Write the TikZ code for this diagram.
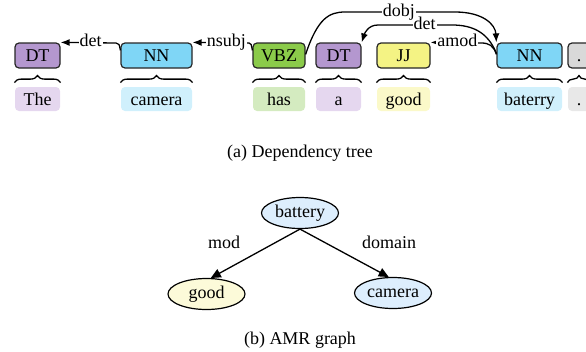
\documentclass[tikz,border=0pt]{standalone}
\usepackage{fontspec}
\setmainfont{Liberation Serif}
\usetikzlibrary{arrows.meta,decorations.pathreplacing,shapes.geometric}

% tag and token colours
\definecolor{dtTag}{HTML}{B497CF}
\definecolor{dtWord}{HTML}{E5D7EF}
\definecolor{nnTag}{HTML}{7FD6F6}
\definecolor{nnWord}{HTML}{D0F0FC}
\definecolor{vbTag}{HTML}{8BCB4A}
\definecolor{vbWord}{HTML}{D4EBC0}
\definecolor{jjTag}{HTML}{F4F384}
\definecolor{jjWord}{HTML}{FBF9C9}
\definecolor{ptTag}{HTML}{D9D9D9}
\definecolor{ptWord}{HTML}{E8E8E8}
\definecolor{amrBlue}{HTML}{DDEEFD}
\definecolor{amrYellow}{HTML}{FCFAD9}

\begin{document}
\begin{tikzpicture}[x=1pt,y=-1pt,
  font=\fontsize{18}{20}\selectfont,
  tagbox/.style={draw=black!85, line width=1.2pt, rounded corners=4pt,
    minimum height=25pt, inner sep=0pt, text height=12pt, text depth=1pt},
  wordbox/.style={rounded corners=4pt, minimum height=24pt, inner sep=0pt,
    text height=12pt, text depth=0pt},
  tokbrace/.style={decorate, decoration={brace, amplitude=7pt}, line width=1.3pt},
  dep/.style={line width=1.3pt, -{Latex[length=9pt,width=7pt]}},
  deplab/.style={fill=white, inner sep=1pt, text height=11pt, text depth=3pt},
  amrnode/.style={ellipse, draw, line width=1.2pt, minimum width=77pt,
    minimum height=31pt, inner sep=0pt},
  amredge/.style={line width=1.3pt, -{Triangle[length=10pt,width=9pt]}}
]
\useasboundingbox (0,0) rectangle (586,351);
\clip (0,0) rectangle (586,351);

% part-of-speech tags
\node[tagbox, fill=dtTag, minimum width=45pt] (t1) at (37.5,55.5) {DT};
\node[tagbox, fill=nnTag, minimum width=71pt] (t2) at (156.5,55.5) {NN};
\node[tagbox, fill=vbTag, minimum width=52pt] (t3) at (279,55.5) {VBZ};
\node[tagbox, fill=dtTag, minimum width=45pt] (t4) at (338.5,55.5) {DT};
\node[tagbox, fill=jjTag, minimum width=53pt] (t5) at (403.5,55.5) {JJ};
\node[tagbox, fill=nnTag, minimum width=65pt] (t6) at (529.5,55.5) {NN};
\node[tagbox, fill=ptTag, minimum width=22pt] (t7) at (579,55.5) {.};

% tokens
\node[wordbox, fill=dtWord, minimum width=45pt] (w1) at (37.5,99) {The};
\node[wordbox, fill=nnWord, minimum width=71pt] (w2) at (156.5,99) {camera};
\node[wordbox, fill=vbWord, minimum width=52pt] (w3) at (279,99) {has};
\node[wordbox, fill=dtWord, minimum width=45pt] (w4) at (338.5,99) {a};
\node[wordbox, fill=jjWord, minimum width=53pt] (w5) at (403.5,99) {good};
\node[wordbox, fill=nnWord, minimum width=65pt] (w6) at (529.5,99) {baterry};
\node[wordbox, fill=ptWord, minimum width=22pt] (w7) at (579,99) {.};

% braces linking each tag to its token
\foreach \t in {t1,t2,t3,t4,t5,t6,t7}
  \draw[tokbrace] ([yshift=-14pt]\t.south west) -- ([yshift=-14pt]\t.south east);

% dependency arcs
\draw[dep] ([yshift=-8pt]t2.north west) .. controls +(-1,-6) and +(3,0) .. (116,43)
  -- node[deplab, pos=0.46] {det} (t1.north east);
\draw[dep] ([yshift=-8pt]t3.north west) .. controls +(-1,-6) and +(2,0) .. (249,43)
  -- node[deplab, pos=0.40] {nsubj} (t2.north east);
\draw[dep] ([yshift=-12pt]t6.north west) .. controls +(-3,-9) and +(8,0) .. (481,43)
  -- node[deplab, pos=0.47] {amod} (t5.north east);
\draw[dep] ([yshift=-11pt]t6.north west) .. controls +(-8,-20) and +(22,0) .. (452,25)
  -- node[deplab, pos=0.37] {det} (378,25)
  .. controls +(-10,0) and +(3,-9) .. (t4.north east);
\draw[dep] ([yshift=-12pt]t3.north east) .. controls +(12,-36) and +(-16,0) .. (345,12)
  -- node[deplab, pos=0.49] {dobj} (455,12)
  .. controls +(28,0) and +(-1,-18) .. (t6.north west);

\node (capA) at (300,153) {(a) Dependency tree};

% AMR graph
\node[amrnode, fill=amrBlue] (bat) at (300,213) {battery};
\node[amrnode, fill=amrYellow] (good) at (206.5,294) {good};
\node[amrnode, fill=amrBlue] (cam) at (393,293) {camera};
\draw[amredge] (bat.south) -- (good.75);
\draw[amredge] (bat.south) -- (cam.105);
\node (lmod) at (224,242) {mod};
\node (ldom) at (389,242) {domain};

\node (capB) at (300,340) {(b) AMR graph};
\end{tikzpicture}
\end{document}
